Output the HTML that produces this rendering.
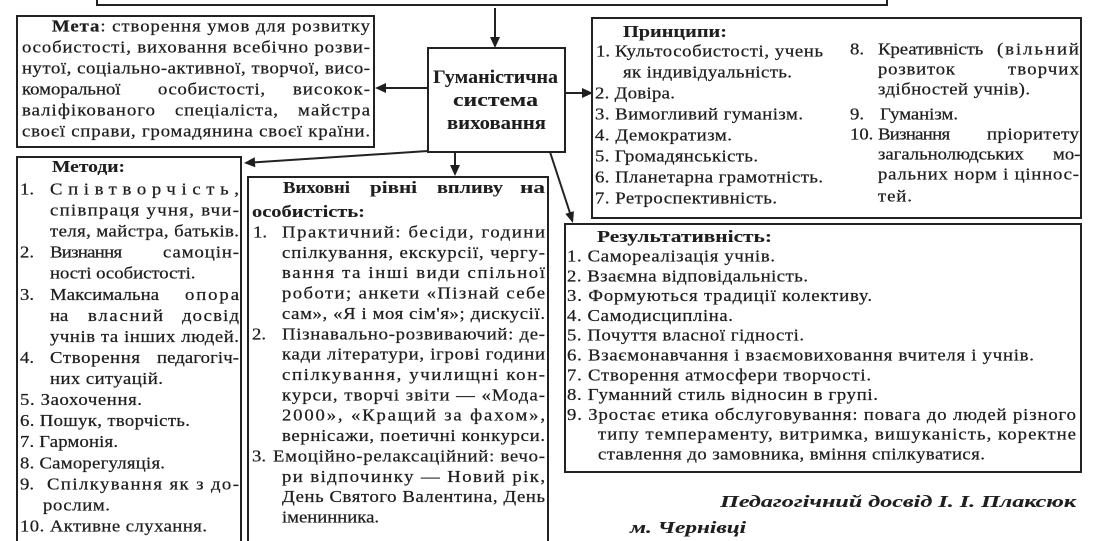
<!DOCTYPE html>
<html><head><meta charset="utf-8">
<style>
html,body{margin:0;padding:0;background:#fff;}
svg{display:block;}
text{font-family:"Liberation Serif","DejaVu Serif",serif;font-size:17px;fill:#1e1e1e;stroke:#1e1e1e;stroke-width:0.25;
  transform-box:fill-box;transform-origin:0 50%;transform:scaleX(1.1);}
.b{font-weight:bold;font-size:17px;stroke-width:0.1;}
.h{font-weight:bold;font-size:19px;stroke-width:0.1;transform:none;}
.f{font-weight:bold;font-style:italic;font-size:17px;stroke-width:0.1;}
</style></head>
<body>
<svg width="1119" height="541" viewBox="0 0 1119 541" xmlns="http://www.w3.org/2000/svg">
<rect width="1119" height="541" fill="#fff"/>
<g stroke="#222" stroke-width="2" fill="none">
  <polyline points="97,-5 97,5 887,5 887,-5"/>
  <rect x="17" y="16" width="357" height="131"/>
  <rect x="428" y="48" width="137" height="104"/>
  <rect x="592" y="18" width="489" height="200"/>
  <rect x="565" y="224" width="516" height="248"/>
  <polyline points="17,550 17,157 241,157 241,550"/>
  <polyline points="248,550 248,177 548,177 548,550"/>
  <line x1="495" y1="8" x2="495" y2="39"/>
  <line x1="428" y1="88" x2="385" y2="88"/>
  <line x1="565" y1="93" x2="583" y2="93"/>
  <line x1="428" y1="151" x2="254" y2="162.4"/>
  <line x1="455" y1="152" x2="455" y2="166"/>
  <line x1="550" y1="152" x2="570" y2="213"/>
</g>
<g fill="#1e1e1e" stroke="none">
  <polygon points="490,37 500,37 495,48"/>
  <polygon points="386,83 386,93 375,88"/>
  <polygon points="582,88 582,98 593,93"/>
  <polygon points="255.3,167.3 254.7,157.3 244,163"/>
  <polygon points="450,165 460,165 455,176"/>
  <polygon points="573.9,211.1 565.3,213.9 573,223"/>
</g>

<!-- Central box -->
<text class="h" x="433" y="83" textLength="125" lengthAdjust="spacingAndGlyphs">Гуманістична</text>
<text class="h" x="453" y="106" textLength="85" lengthAdjust="spacingAndGlyphs">система</text>
<text class="h" x="447" y="129" textLength="99" lengthAdjust="spacingAndGlyphs">виховання</text>

<!-- Мета -->
<text x="52" y="31.5" textLength="289.1" lengthAdjust="spacing"><tspan font-weight="bold">Мета</tspan>: створення умов для розвитку</text>
<text x="22" y="52.5" textLength="316.4" lengthAdjust="spacing">особистості, виховання всебічно розви-</text>
<text x="22" y="73.5" textLength="316.4" lengthAdjust="spacing">нутої, соціально-активної, творчої, висо-</text>
<text x="22" y="94.5">коморальної</text>
<text x="158" y="94.5" textLength="97.3" lengthAdjust="spacing">особистості,</text>
<text x="293" y="94.5" textLength="70" lengthAdjust="spacing">високок-</text>
<text x="22" y="115.5" textLength="120.9" lengthAdjust="spacing">валіфікованого</text>
<text x="175" y="115.5" textLength="93.6" lengthAdjust="spacing">спеціаліста,</text>
<text x="298" y="115.5" textLength="65.5" lengthAdjust="spacing">майстра</text>
<text x="22" y="136.5" textLength="316.4" lengthAdjust="spacing">своєї справи, громадянина своєї країни.</text>

<!-- Методи -->
<text class="b" x="52" y="172" textLength="66.4" lengthAdjust="spacingAndGlyphs">Методи:</text>
<text x="20" y="194.5">1.</text>
<text x="50" y="194.5" textLength="171.8" lengthAdjust="spacing">Співтворчість,</text>
<text x="50" y="215.6" textLength="171.8" lengthAdjust="spacing">співпраця учня, вчи-</text>
<text x="50" y="236.6" textLength="171.8" lengthAdjust="spacing">теля, майстра, батьків.</text>
<text x="20" y="257.7">2.</text>
<text x="50" y="257.7" textLength="65.5" lengthAdjust="spacing">Визнання</text>
<text x="163" y="257.7" textLength="69.1" lengthAdjust="spacing">самоцін-</text>
<text x="50" y="278.7">ності особистості.</text>
<text x="20" y="299.8">3.</text>
<text x="50" y="299.8" textLength="99.1" lengthAdjust="spacing">Максимальна</text>
<text x="185" y="299.8" textLength="49.1" lengthAdjust="spacing">опора</text>
<text x="50" y="320.9">на</text>
<text x="88" y="320.9" textLength="68.2" lengthAdjust="spacing">власний</text>
<text x="182" y="320.9" textLength="51.8" lengthAdjust="spacing">досвід</text>
<text x="50" y="341.9" textLength="171.8" lengthAdjust="spacing">учнів та інших людей.</text>
<text x="20" y="363">4.</text>
<text x="50" y="363" textLength="81.8" lengthAdjust="spacing">Створення</text>
<text x="157" y="363" textLength="74.5" lengthAdjust="spacing">педагогіч-</text>
<text x="50" y="384" textLength="102.7" lengthAdjust="spacing">них ситуацій.</text>
<text x="20" y="405.1" textLength="110.9" lengthAdjust="spacing">5. Заохочення.</text>
<text x="20" y="426.2" textLength="154.5" lengthAdjust="spacing">6. Пошук, творчість.</text>
<text x="20" y="447.2" textLength="89.1" lengthAdjust="spacing">7. Гармонія.</text>
<text x="20" y="468.3" textLength="131.8" lengthAdjust="spacing">8. Саморегуляція.</text>
<text x="20" y="489.3">9.</text>
<text x="47" y="489.3" textLength="174.5" lengthAdjust="spacing">Спілкування як з до-</text>
<text x="43" y="510.4" textLength="60.9" lengthAdjust="spacing">рослим.</text>
<text x="20" y="531.5" textLength="170" lengthAdjust="spacing">10. Активне слухання.</text>

<!-- Виховні рівні -->
<text class="b" x="283" y="193" textLength="60.9" lengthAdjust="spacingAndGlyphs">Виховні</text>
<text class="b" x="370" y="193" textLength="42.7" lengthAdjust="spacingAndGlyphs">рівні</text>
<text class="b" x="437" y="193" textLength="60" lengthAdjust="spacingAndGlyphs">впливу</text>
<text class="b" x="520" y="193" textLength="22.7" lengthAdjust="spacingAndGlyphs">на</text>
<text class="b" x="252" y="217" textLength="102.7" lengthAdjust="spacingAndGlyphs">особистість:</text>
<text x="253" y="237.5">1.</text>
<text x="282" y="237.5" textLength="239.1" lengthAdjust="spacing">Практичний: бесіди, години</text>
<text x="282" y="257.9" textLength="239.1" lengthAdjust="spacing">спілкування, екскурсії, чергу-</text>
<text x="282" y="278.2" textLength="239.1" lengthAdjust="spacing">вання та інші види спільної</text>
<text x="282" y="298.6" textLength="239.1" lengthAdjust="spacing">роботи; анкети «Пізнай себе</text>
<text x="282" y="318.9" textLength="239.1" lengthAdjust="spacing">сам», «Я і моя сім'я»; дискусії.</text>
<text x="252" y="339.3">2.</text>
<text x="282" y="339.3" textLength="239.1" lengthAdjust="spacing">Пізнавально-розвиваючий: де-</text>
<text x="282" y="359.7" textLength="239.1" lengthAdjust="spacing">кади літератури, ігрові години</text>
<text x="282" y="380" textLength="239.1" lengthAdjust="spacing">спілкування, училищні кон-</text>
<text x="282" y="400.4" textLength="239.1" lengthAdjust="spacing">курси, творчі звіти — «Мода-</text>
<text x="282" y="420.7" textLength="239.1" lengthAdjust="spacing">2000», «Кращий за фахом»,</text>
<text x="282" y="441.1" textLength="239.1" lengthAdjust="spacing">вернісажи, поетичні конкурси.</text>
<text x="252" y="461.5">3.</text>
<text x="273" y="461.5" textLength="247.3" lengthAdjust="spacing">Емоційно-релаксаційний: вечо-</text>
<text x="282" y="481.8" textLength="239.1" lengthAdjust="spacing">ри відпочинку — Новий рік,</text>
<text x="282" y="502.2" textLength="239.1" lengthAdjust="spacing">День Святого Валентина, День</text>
<text x="282" y="522.5">іменинника.</text>

<!-- Принципи -->
<text class="b" x="623" y="37" textLength="94.5" lengthAdjust="spacingAndGlyphs">Принципи:</text>
<text x="596" y="56.5">1.</text>
<text x="615" y="56.5" textLength="189.1" lengthAdjust="spacing">Культособистості, учень</text>
<text x="623" y="77.5" textLength="153.6" lengthAdjust="spacing">як індивідуальність.</text>
<text x="595" y="98.5" textLength="72.7" lengthAdjust="spacing">2. Довіра.</text>
<text x="595" y="119.5" textLength="189.1" lengthAdjust="spacing">3. Вимогливий гуманізм.</text>
<text x="595" y="140.5" textLength="124.5" lengthAdjust="spacing">4. Демократизм.</text>
<text x="595" y="161.5" textLength="148.2" lengthAdjust="spacing">5. Громадянськість.</text>
<text x="595" y="182.5" textLength="207.3" lengthAdjust="spacing">6. Планетарна грамотність.</text>
<text x="595" y="203.5" textLength="165.5" lengthAdjust="spacing">7. Ретроспективність.</text>

<text x="850" y="54.5">8.</text>
<text x="878" y="54.5">Креативність</text>
<text x="997" y="54.5" textLength="74.5" lengthAdjust="spacing">(вільний</text>
<text x="878" y="74.5" textLength="70" lengthAdjust="spacing">розвиток</text>
<text x="1008" y="74.5" textLength="64.5" lengthAdjust="spacing">творчих</text>
<text x="878" y="94.5" textLength="138.2" lengthAdjust="spacing">здібностей учнів).</text>
<text x="850" y="119.5">9.</text>
<text x="880" y="119.5">Гуманізм.</text>
<text x="850" y="139.5">10.</text>
<text x="878" y="139.5" textLength="65.5" lengthAdjust="spacing">Визнання</text>
<text x="987" y="139.5" textLength="83.6" lengthAdjust="spacing">пріоритету</text>
<text x="878" y="159.5">загальнолюдських</text>
<text x="1053" y="159.5">мо-</text>
<text x="878" y="179.5" textLength="182.7" lengthAdjust="spacing">ральних норм і ціннос-</text>
<text x="878" y="201.5" textLength="30.9" lengthAdjust="spacing">тей.</text>

<!-- Результативність -->
<text class="b" x="597" y="242" textLength="159.1" lengthAdjust="spacingAndGlyphs">Результативність:</text>
<text x="567" y="261.5" textLength="189.1" lengthAdjust="spacing">1. Самореалізація учнів.</text>
<text x="567" y="281.3" textLength="219.1" lengthAdjust="spacing">2. Взаємна відповідальність.</text>
<text x="567" y="301.1" textLength="277.3" lengthAdjust="spacing">3. Формуються традиції колективу.</text>
<text x="567" y="320.9" textLength="150.9" lengthAdjust="spacing">4. Самодисципліна.</text>
<text x="567" y="340.7" textLength="215.5" lengthAdjust="spacing">5. Почуття власної гідності.</text>
<text x="567" y="360.5" textLength="424.5" lengthAdjust="spacing">6. Взаємонавчання і взаємовиховання вчителя і учнів.</text>
<text x="567" y="380.3" textLength="276.4" lengthAdjust="spacing">7. Створення атмосфери творчості.</text>
<text x="567" y="400.1" textLength="282.7" lengthAdjust="spacing">8. Гуманний стиль відносин в групі.</text>
<text x="567" y="419.9" textLength="462.7" lengthAdjust="spacing">9. Зростає етика обслуговування: повага до людей різного</text>
<text x="598" y="439.7" textLength="434.5" lengthAdjust="spacing">типу темпераменту, витримка, вишуканість, коректне</text>
<text x="598" y="459.5" textLength="351.8" lengthAdjust="spacing">ставлення до замовника, вміння спілкуватися.</text>

<!-- Footer -->
<text class="f" x="720" y="507" textLength="323.6" lengthAdjust="spacingAndGlyphs">Педагогічний досвід І. І. Плаксюк</text>
<text class="f" x="630" y="533" textLength="105.5" lengthAdjust="spacingAndGlyphs">м. Чернівці</text>
</svg>
</body></html>
